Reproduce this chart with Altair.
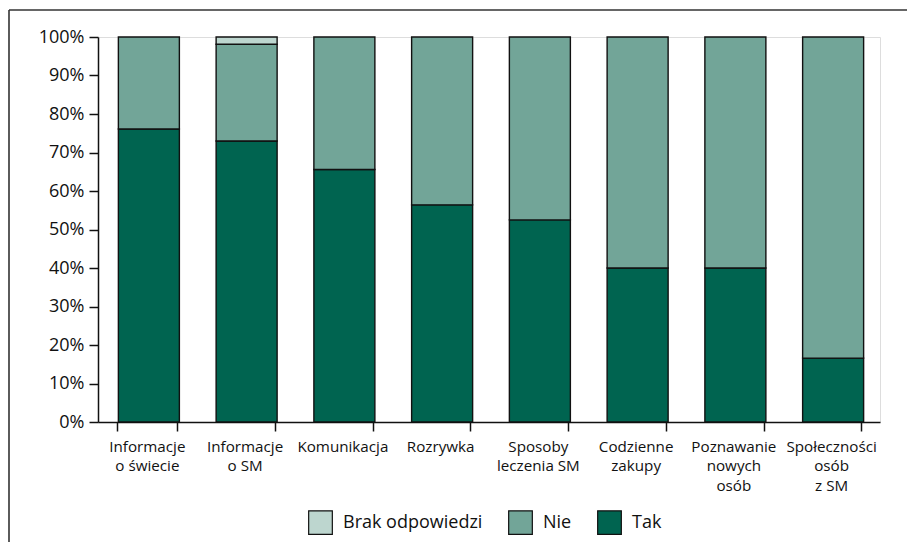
import altair as alt
import pandas as pd

categories = ["Informacje\no świecie", "Informacje\no SM", "Komunikacja", "Rozrywka",
              "Sposoby\nleczenia SM", "Codzienne\nzakupy", "Poznawanie\nnowych\nosób",
              "Społeczności\nosób\nz SM"]
tak = [76.1, 73.0, 65.6, 56.4, 52.5, 40.0, 40.0, 16.6]
brak = [0, 1.9, 0, 0, 0, 0, 0, 0]
nie = [100 - t - b for t, b in zip(tak, brak)]

series = ["Brak odpowiedzi", "Nie", "Tak"]
colors = ["#BDD6CF", "#72A598", "#006450"]

rows = []
for i, c in enumerate(categories):
    rows.append({"cat": c, "series": "Tak", "value": tak[i], "ord": 0})
    rows.append({"cat": c, "series": "Nie", "value": nie[i], "ord": 1})
    if brak[i] > 0:
        rows.append({"cat": c, "series": "Brak odpowiedzi", "value": brak[i], "ord": 2})
df = pd.DataFrame(rows)

FONT = "Open Sans"

bars = alt.Chart(df).mark_bar(stroke="#111111", strokeWidth=1.4, width=61, xOffset=2).encode(
    x=alt.X("cat:N", sort=categories, title=None,
            scale=alt.Scale(paddingInner=0.38, paddingOuter=0.19),
            axis=alt.Axis(labelAngle=0, labelExpr="split(datum.label, '\\n')",
                          labelFontSize=15.2, labelFont=FONT, labelColor="#111111",
                          labelPadding=8, labelLineHeight=19.5, labelBaseline="top",
                          tickBand="extent", tickSize=9, tickColor="#111111", tickWidth=1.5,
                          domainColor="#111111", domainWidth=1.5, labelLimit=200, grid=False)),
    y=alt.Y("value:Q", stack="zero", title=None,
            scale=alt.Scale(domain=[0, 100], nice=False),
            axis=alt.Axis(values=list(range(0, 101, 10)),
                          labelExpr="datum.value + '%'", labelFontSize=18, labelFont=FONT,
                          labelColor="#111111", tickSize=9, tickColor="#111111", tickWidth=1.5,
                          domainColor="#111111", domainWidth=1.5, labelPadding=5, grid=False)),
    color=alt.Color("series:N", scale=alt.Scale(domain=series, range=colors), title=None,
                    legend=alt.Legend(orient="none", direction="horizontal", legendX=210,
                                      legendY=473, symbolType="square", symbolSize=560,
                                      symbolStrokeColor="#111111", symbolStrokeWidth=1.2,
                                      symbolOpacity=1,
                                      labelFontSize=18, labelFont=FONT, labelColor="#111111",
                                      labelOffset=10, columnPadding=23)),
    order=alt.Order("ord:Q", sort="ascending"),
)

frame_df = pd.DataFrame({"a": [0]})
left_line = alt.Chart(frame_df).mark_rule(color="#333333", strokeWidth=1.6).encode(
    x=alt.value(-89), y=alt.value(-27), y2=alt.value(560))
top_line = alt.Chart(frame_df).mark_rule(color="#333333", strokeWidth=1.6).encode(
    x=alt.value(-89), x2=alt.value(820), y=alt.value(-27))

chart = alt.layer(bars, left_line, top_line).properties(
    width=782, height=385, autosize=alt.AutoSizeParams(type="none"),
    padding={"left": 98, "top": 37, "right": 27, "bottom": 120},
).configure_view(strokeWidth=0, strokeOpacity=0, stroke="transparent"
).configure_axis(grid=False).configure(font=FONT)

chart.save("out.html", embed_options={"renderer": "svg", "actions": False})
